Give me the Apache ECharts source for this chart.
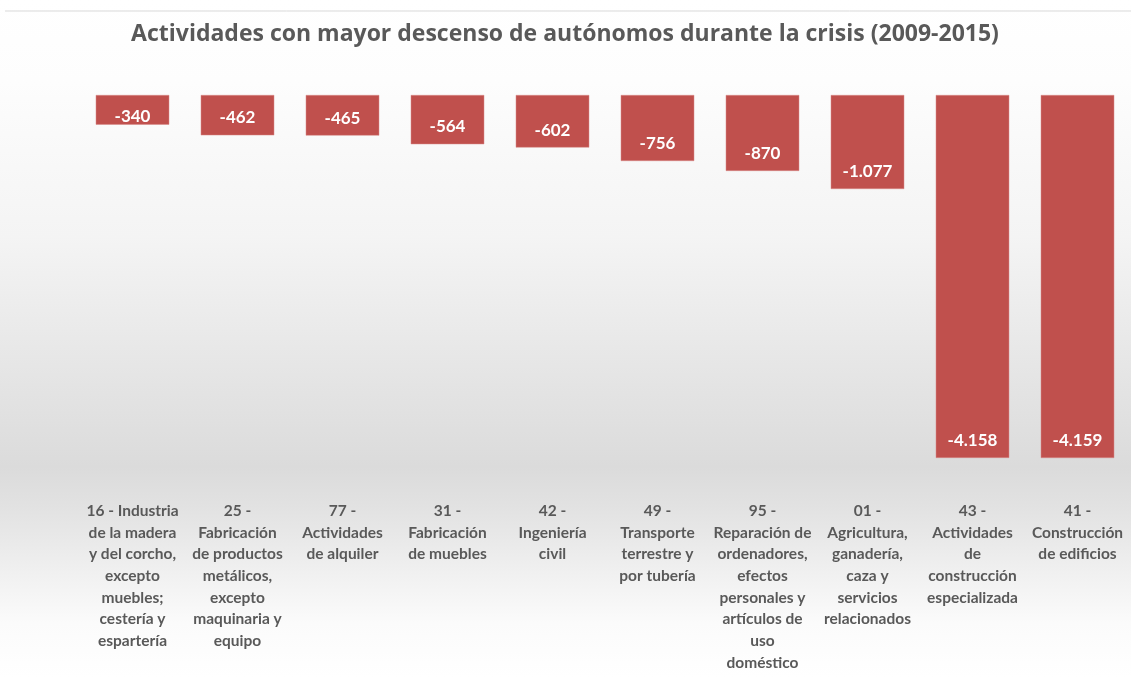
<!DOCTYPE html>
<html>
<head>
<meta charset="utf-8">
<title>Actividades con mayor descenso de autónomos</title>
<script src="https://cdn.jsdelivr.net/npm/echarts@6/dist/echarts.min.js"></script>
<style>
	html, body { margin: 0; padding: 0; background: #fff; }
	#main { width: 1131px; height: 677px; }
</style>
</head>
<body>
<div id="main"></div>
<script type="text/javascript">
// categorias (con saltos de linea como en el grafico original)
var categorias = [
	'16 - Industria\nde la madera\ny del corcho,\nexcepto\nmuebles;\ncestería y\nespartería',
	'25 -\nFabricación\nde productos\nmetálicos,\nexcepto\nmaquinaria y\nequipo',
	'77 -\nActividades\nde alquiler',
	'31 -\nFabricación\nde muebles',
	'42 -\nIngeniería\ncivil',
	'49 -\nTransporte\nterrestre y\npor tubería',
	'95 -\nReparación de\nordenadores,\nefectos\npersonales y\nartículos de\nuso\ndoméstico',
	'01 -\nAgricultura,\nganadería,\ncaza y\nservicios\nrelacionados',
	'43 -\nActividades\nde\nconstrucción\nespecializada',
	'41 -\nConstrucción\nde edificios'
];
var descenso = [-340, -462, -465, -564, -602, -756, -870, -1077, -4158, -4159];

var myChart = echarts.init(document.getElementById('main'));

// formato español: punto como separador de miles
function fmt(v) {
	var s = String(Math.abs(v)).replace(/\B(?=(\d{3})+(?!\d))/g, '.');
	return (v < 0 ? '-' : '') + s;
}

// barras muy cortas: la etiqueta queda pegada abajo
var datosBarras = descenso.map(function (v) {
	if (v > -400) {
		return { value: v, label: { distance: 0 } };
	}
	return v;
});

var option = {
	backgroundColor: '#fff',
	animation: false,
	graphic: [
		{
			type: 'rect',
			z: -10,
			silent: true,
			shape: { x: 0, y: 0, width: 1131, height: 677 },
			style: {
				fill: new echarts.graphic.LinearGradient(0, 0, 0, 1, [
					{ offset: 0, color: '#ffffff' },
					{ offset: 0.12, color: '#fdfdfd' },
					{ offset: 0.35, color: '#f4f4f4' },
					{ offset: 0.69, color: '#dbdbdb' },
					{ offset: 0.75, color: '#e2e2e2' },
					{ offset: 0.92, color: '#fbfbfb' },
					{ offset: 1, color: '#ffffff' }
				])
			}
		},
		{
			type: 'line',
			silent: true,
			shape: { x1: 5, y1: 11, x2: 1131, y2: 11 },
			style: { stroke: '#d9d9d9', lineWidth: 1 }
		}
	],
	title: {
		text: 'Actividades con mayor descenso de autónomos durante la crisis (2009-2015)',
		left: 560,
		textAlign: 'center',
		top: 18,
		textStyle: {
			fontFamily: 'Open Sans',
			fontWeight: 'bold',
			fontSize: 23,
			color: '#595959'
		}
	},
	grid: {
		left: 80,
		right: 1,
		top: 95,
		bottom: 219,
		containLabel: false
	},
	xAxis: {
		type: 'category',
		data: categorias,
		position: 'bottom',
		axisLine: { show: false, onZero: false },
		axisTick: { show: false },
		axisLabel: {
			interval: 0,
			margin: 42,
			fontFamily: 'Lato',
			fontWeight: 'bold',
			fontSize: 15.5,
			lineHeight: 21.7,
			color: '#595959',
			verticalAlign: 'top'
		}
	},
	yAxis: {
		type: 'value',
		min: -4159,
		max: 0,
		show: false,
		splitLine: { show: false }
	},
	series: [
		{
			type: 'bar',
			data: datosBarras,
			barWidth: '70%',
			itemStyle: {
				color: '#C0504D',
				borderColor: '#d98a88',
				borderWidth: 0.5
			},
			label: {
				show: true,
				position: 'insideBottom',
				distance: 9,
				color: '#ffffff',
				fontFamily: 'Lato',
				fontWeight: 'bold',
				fontSize: 17,
				formatter: function (p) { return fmt(p.value); }
			}
		}
	]
};

myChart.setOption(option);
</script>
</body>
</html>
